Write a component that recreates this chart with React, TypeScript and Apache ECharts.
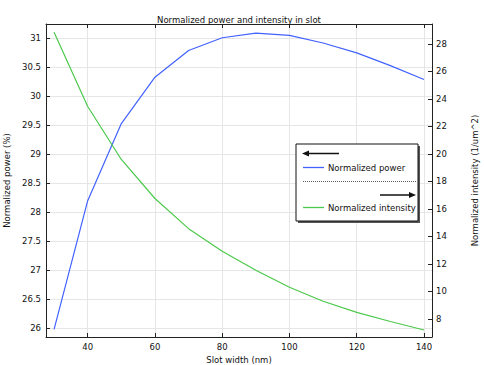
import React, { useEffect, useRef } from "react";
import * as echarts from "echarts";

const slotWidth = [30, 40, 50, 60, 70, 80, 90, 100, 110, 120, 130, 140];
const normalizedPower = [25.98, 28.2, 29.53, 30.33, 30.79, 31.01, 31.09, 31.05, 30.92, 30.75, 30.53, 30.29];
const normalizedIntensity = [28.85, 23.45, 19.6, 16.76, 14.57, 12.93, 11.55, 10.31, 9.29, 8.48, 7.82, 7.2];

const FONT = "DejaVu Sans";
const FS = 8.5;

export default function App() {
  const ref = useRef<HTMLDivElement>(null);
  useEffect(() => {
    if (!ref.current) return;
    const chart = echarts.init(ref.current, undefined, { renderer: "svg" });
    const axisLine = { show: true, lineStyle: { color: "#222", width: 1 } };
    const tick = { show: true, inside: true, length: 4, lineStyle: { color: "#222" } };
    const label = { color: "#111", fontSize: FS, fontFamily: FONT };
    const nameStyle = { color: "#111", fontSize: FS, fontFamily: FONT };
    chart.setOption({
      animation: false,
      backgroundColor: "#fff",
      textStyle: { fontFamily: FONT },
      title: {
        text: "Normalized power and intensity in slot",
        left: 234,
        textAlign: "center",
        top: 10,
        textStyle: { fontSize: FS, fontWeight: "normal", color: "#111", fontFamily: FONT },
      },
      grid: { left: 46, top: 24, width: 386, height: 313, outerBoundsMode: "none", containLabel: false },
      xAxis: [
        {
          type: "value",
          min: 27.6,
          max: 142.38,
          splitNumber: 5,
          name: "Slot width (nm)",
          nameLocation: "middle",
          nameGap: 12,
          nameTextStyle: nameStyle,
          axisLine,
          axisTick: tick,
          axisLabel: { ...label, margin: 5, showMinLabel: false, showMaxLabel: false },
          splitLine: { show: true, lineStyle: { color: "#e6e6e6", width: 1 } },
        },
        {
          type: "value",
          position: "top",
          min: 27.6,
          max: 142.38,
          splitNumber: 5,
          axisLine,
          axisTick: tick,
          axisLabel: { show: false },
          splitLine: { show: false },
        },
      ],
      yAxis: [
        {
          type: "value",
          min: 25.85,
          max: 31.247,
          splitNumber: 10,
          name: "Normalized power (%)",
          nameLocation: "middle",
          nameGap: 33,
          nameTextStyle: nameStyle,
          axisLine,
          axisTick: tick,
          axisLabel: { ...label, margin: 5, showMinLabel: false, showMaxLabel: false },
          splitLine: { show: true, lineStyle: { color: "#e6e6e6", width: 1 } },
        },
        {
          type: "value",
          position: "right",
          min: 6.69,
          max: 29.45,
          splitNumber: 11,
          name: "Normalized intensity (1/um^2)",
          nameLocation: "middle",
          nameGap: 38,
          nameTextStyle: nameStyle,
          axisLine,
          axisTick: tick,
          axisLabel: { ...label, margin: 4, showMinLabel: false, showMaxLabel: false },
          splitLine: { show: false },
        },
      ],
      legend: [
        {
          data: ["Normalized power"],
          left: 303,
          top: 163,
          padding: 0,
          z: 20,
          icon: "rect",
          itemWidth: 21,
          itemHeight: 1.3,
          textStyle: { fontSize: FS, fontFamily: FONT, color: "#111", padding: [0, 0, 0, -1] },
        },
        {
          data: ["Normalized intensity"],
          left: 303,
          top: 203,
          padding: 0,
          z: 20,
          icon: "rect",
          itemWidth: 21,
          itemHeight: 1.3,
          textStyle: { fontSize: FS, fontFamily: FONT, color: "#111", padding: [0, 0, 0, -1] },
        },
      ],
      graphic: [
        { type: "rect", shape: { x: 298, y: 146, width: 122, height: 77 }, style: { fill: "#555" }, z: 5 },
        { type: "rect", shape: { x: 296, y: 144, width: 122, height: 77 }, style: { fill: "#fff", stroke: "#111", lineWidth: 1 }, z: 6 },
        { type: "line", shape: { x1: 307, y1: 153.5, x2: 339, y2: 153.5 }, style: { stroke: "#111", lineWidth: 1.5 }, z: 7 },
        { type: "polygon", shape: { points: [[302, 153.5], [309, 150.5], [309, 156.5]] }, style: { fill: "#111" }, z: 7 },
        { type: "line", shape: { x1: 303, y1: 181.5, x2: 416, y2: 181.5 }, style: { stroke: "#333", lineWidth: 0.8, lineDash: [1, 1] }, z: 7 },
        { type: "line", shape: { x1: 380, y1: 195, x2: 411, y2: 195 }, style: { stroke: "#111", lineWidth: 1.5 }, z: 7 },
        { type: "polygon", shape: { points: [[416, 195], [409, 192], [409, 198]] }, style: { fill: "#111" }, z: 7 },
      ],
      series: [
        {
          name: "Normalized power",
          type: "line",
          xAxisIndex: 0,
          yAxisIndex: 0,
          data: slotWidth.map((x, i) => [x, normalizedPower[i]]),
          showSymbol: false,
          symbol: "none",
          color: "#4262ff",
          lineStyle: { color: "#4262ff", width: 1.2 },
          z: 3,
        },
        {
          name: "Normalized intensity",
          type: "line",
          xAxisIndex: 0,
          yAxisIndex: 1,
          data: slotWidth.map((x, i) => [x, normalizedIntensity[i]]),
          showSymbol: false,
          symbol: "none",
          color: "#4cc94c",
          lineStyle: { color: "#4cc94c", width: 1.2 },
          z: 3,
        },
      ],
    });
    return () => chart.dispose();
  }, []);
  return <div ref={ref} style={{ width: 484, height: 365, position: "absolute", left: 0, top: 0 }} />;
}
